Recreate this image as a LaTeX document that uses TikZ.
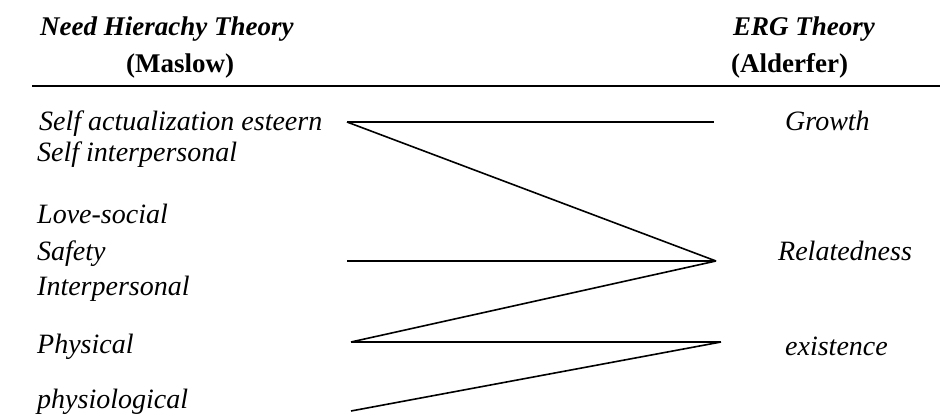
\documentclass[tikz,border=0pt]{standalone}
\usepackage{fontspec}
\setmainfont{Liberation Serif}
\begin{document}
\begin{tikzpicture}[x=1pt,y=-1pt,
  lbl/.style={inner sep=0pt,anchor=base west,font=\fontsize{28}{32}\selectfont\itshape},
  hdr/.style={inner sep=0pt,anchor=base west,font=\fontsize{27}{31}\selectfont\bfseries},
  link/.style={line width=1.6pt,black}]
\useasboundingbox (0,0) rectangle (943,418);
% headers
\node[hdr] (h1) at (40,35) {\itshape Need Hierachy Theory};
\node[hdr] (h2) at (126,72) {(Maslow)};
\node[hdr] (h3) at (733,35) {\itshape ERG Theory};
\node[hdr] (h4) at (731,72) {(Alderfer)};
\coordinate (ruleL) at (32,86);
\coordinate (ruleR) at (940,86);
\draw[line width=2pt] (ruleL) -- (ruleR);
% left labels
\node[lbl] (m1) at (39,130) {Self actualization esteern};
\node[lbl] (m2) at (37,161) {Self interpersonal};
\node[lbl] (m3) at (37,223) {Love-social};
\node[lbl] (m4) at (37,260) {Safety};
\node[lbl] (m5) at (37,295) {Interpersonal};
\node[lbl] (m6) at (37,353) {Physical};
\node[lbl] (m7) at (37,408) {physiological};
% right labels
\node[lbl] (e1) at (785,130) {Growth};
\node[lbl] (e2) at (778,260) {Relatedness};
\node[lbl] (e3) at (785,355) {existence};
% connector ends
\coordinate (gL) at (347,122);
\coordinate (gR) at (714,122);
\coordinate (rL) at (347,261);
\coordinate (rR) at (716,261);
\coordinate (eL) at (351,342);
\coordinate (eR) at (721,342);
\coordinate (pL) at (351,411);
\draw[link] (gL) -- (gR);
\draw[link] (gL) -- (rR);
\draw[link] (rL) -- (rR);
\draw[link] (rR) -- (eL);
\draw[link] (eL) -- (eR);
\draw[link] (eR) -- (pL);
\end{tikzpicture}
\end{document}
